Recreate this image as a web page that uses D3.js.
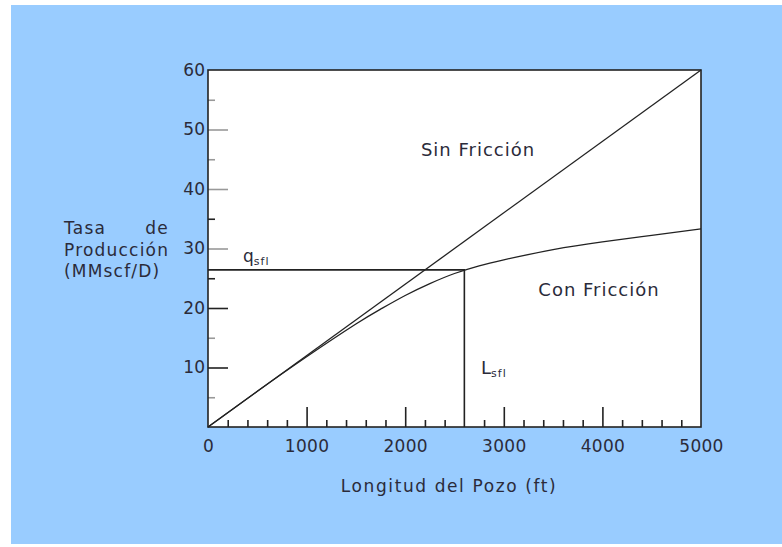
<!DOCTYPE html>
<html>
<head>
<meta charset="utf-8">
<script src="https://cdn.jsdelivr.net/npm/d3@7"></script>
<style>
  body { margin: 0; background: #fff; }
  text { font-family: "DejaVu Sans", Verdana, sans-serif; fill: #2b2b3a; }
</style>
</head>
<body>
<div id="chart"></div>
<script>
// Longitud del pozo (ft) vs tasa de produccion (MMscf/D)
var sinX = [0, 5000]
var sinY = [0, 60]

var conX = [0, 500, 1000, 1500, 1750, 2000, 2250, 2500, 2750, 3000, 3500, 4000, 4500, 5000]
var conY = [0, 6.0, 11.8, 17.3, 19.8, 22.1, 24.1, 25.8, 27.1, 28.1, 29.8, 31.1, 32.2, 33.3]

var qsfl = 26.4
var lsfl = 2600

var xMajor = [1000, 2000, 3000, 4000]
var xMinor = [200, 400, 600, 800, 1200, 1400, 1600, 1800, 2200, 2400, 2800, 3200, 3400, 3600, 3800, 4200, 4400, 4600, 4800]
var xLabels = [0, 1000, 2000, 3000, 4000, 5000]
var yMajor = [10, 20, 30, 40, 50]
var yMinor = [5, 15, 25, 35, 45, 55]
var yLabels = [10, 20, 30, 40, 50, 60]
var grayTicks = [55, 50, 45, 40, 30, 15, 5]

var W = 782, H = 547

var svg = d3.select("#chart")
  .append("svg")
    .attr("width", W)
    .attr("height", H)

svg.append("rect")
  .attr("x", 11).attr("y", 5)
  .attr("width", W - 11).attr("height", H - 8)
  .attr("fill", "#99ccff")

var x = d3.scaleLinear()
  .domain([0, 5000])
  .range([208, 701])

var y = d3.scaleLinear()
  .domain([0, 60])
  .range([427, 70])

svg.append("rect")
  .attr("x", x(0)).attr("y", y(60))
  .attr("width", x(5000) - x(0)).attr("height", y(0) - y(60))
  .attr("fill", "#fff")

// inside ticks
function tickAxis(axis, pos, vals, size) {
  var g = svg.append("g")
    .attr("transform", pos)
    .call(axis.tickValues(vals).tickSize(size).tickFormat(""))
  g.select(".domain").remove()
  g.selectAll("line")
    .attr("stroke", function(d) { return grayTicks.indexOf(d) >= 0 ? "#999" : "#222" })
    .style("stroke-width", 1.6)
}
tickAxis(d3.axisTop(x), "translate(0," + y(0) + ")", xMajor, 20)
tickAxis(d3.axisTop(x), "translate(0," + y(0) + ")", xMinor, 7)
tickAxis(d3.axisRight(y), "translate(" + x(0) + ",0)", yMajor, 20)
tickAxis(d3.axisRight(y), "translate(" + x(0) + ",0)", yMinor, 7)

// labels
var gx = svg.append("g")
  .attr("transform", "translate(0," + y(0) + ")")
  .call(d3.axisBottom(x).tickValues(xLabels).tickFormat(d3.format("d")).tickSize(0).tickPadding(13))
gx.select(".domain").remove()
gx.selectAll("text").style("font-size", "17px").style("letter-spacing", "0.3px").attr("fill", "#2b2b3a")

var gy = svg.append("g")
  .attr("transform", "translate(" + x(0) + ",0)")
  .call(d3.axisLeft(y).tickValues(yLabels).tickSize(0).tickPadding(3))
gy.select(".domain").remove()
gy.selectAll("text").style("font-size", "17px").attr("fill", "#2b2b3a")

// frame
svg.append("rect")
  .attr("x", x(0)).attr("y", y(60))
  .attr("width", x(5000) - x(0)).attr("height", y(0) - y(60))
  .attr("fill", "none")
  .attr("stroke", "#222")
  .style("stroke-width", 1.6)

// sin friccion
svg.append("path")
  .datum(d3.zip(sinX, sinY))
  .attr("d", d3.line()
    .x(function(d) { return x(d[0]) })
    .y(function(d) { return y(d[1]) }))
  .attr("stroke", "#222")
  .style("stroke-width", 1.3)
  .style("fill", "none")

// con friccion
svg.append("path")
  .datum(d3.zip(conX, conY))
  .attr("d", d3.line()
    .curve(d3.curveNatural)
    .x(function(d) { return x(d[0]) })
    .y(function(d) { return y(d[1]) }))
  .attr("stroke", "#222")
  .style("stroke-width", 1.3)
  .style("fill", "none")

// q_sfl and L_sfl guide lines
svg.append("path")
  .attr("d", d3.line()([[x(0), y(qsfl)], [x(lsfl), y(qsfl)], [x(lsfl), y(0)]]))
  .attr("stroke", "#222")
  .style("stroke-width", 1.6)
  .style("fill", "none")

svg.append("text").attr("x", 478).attr("y", 156)
  .attr("text-anchor", "middle").style("font-size", "18px").style("letter-spacing", "1px").text("Sin Fricción")
svg.append("text").attr("x", 599).attr("y", 296)
  .attr("text-anchor", "middle").style("font-size", "18px").style("letter-spacing", "1px").text("Con Fricción")

var q = svg.append("text").attr("x", 243).attr("y", 262).style("font-size", "17px")
q.append("tspan").text("q")
q.append("tspan").attr("dy", 3).style("font-size", "11px").style("letter-spacing", "1px").text("sfl")

var L = svg.append("text").attr("x", 481).attr("y", 374).style("font-size", "18px")
L.append("tspan").text("L")
L.append("tspan").attr("dy", 3).style("font-size", "11px").style("letter-spacing", "1px").text("sfl")

svg.append("text").attr("x", 449).attr("y", 492)
  .attr("text-anchor", "middle").style("font-size", "17px").style("letter-spacing", "1.6px")
  .text("Longitud del Pozo (ft)")

var yl = svg.append("g").style("font-size", "17px").style("letter-spacing", "1.2px")
yl.append("text").attr("x", 64).attr("y", 234).text("Tasa")
yl.append("text").attr("x", 169).attr("y", 234).attr("text-anchor", "end").text("de")
yl.append("text").attr("x", 64).attr("y", 256).text("Producción")
yl.append("text").attr("x", 64).attr("y", 277).text("(MMscf/D)")
</script>
</body>
</html>
